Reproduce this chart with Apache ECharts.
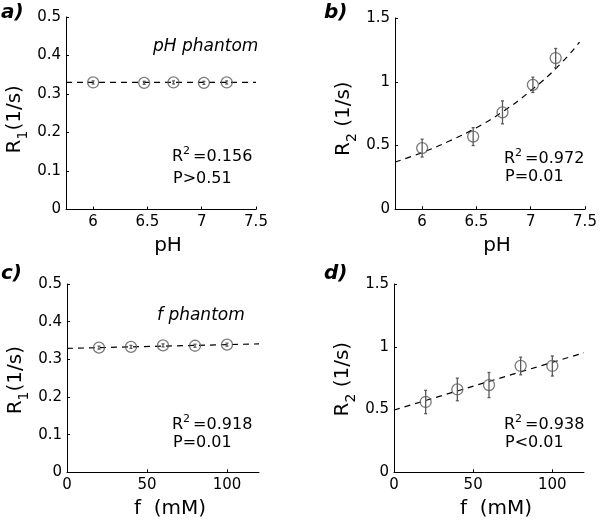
<!DOCTYPE html>
<html>
<head>
<meta charset="utf-8">
<script src="https://cdn.jsdelivr.net/npm/echarts@6/dist/echarts.min.js"></script>
<style>html,body{margin:0;padding:0;background:#fff;}#c{width:600px;height:529px;}</style>
</head>
<body>
<div id="c"></div>
<script>
// ---- data ----
var pH = [6.0, 6.47, 6.74, 7.02, 7.23];
var R1_pH = [0.33, 0.329, 0.33, 0.329, 0.33];
var R1_pH_err = [0.004, 0.004, 0.004, 0.004, 0.004];
var R2_pH = [0.48, 0.57, 0.76, 0.976, 1.186];
var R2_pH_err = [0.07, 0.07, 0.09, 0.06, 0.075];
var fitA_x = [5.75, 7.5];
var fitA_y = [0.33, 0.33];
var fitB_x = [5.75, 6.0, 6.25, 6.5, 6.75, 7.0, 7.25, 7.45];
var fitB_y = [0.37, 0.445, 0.535, 0.64, 0.77, 0.93, 1.12, 1.31];

var fconc = [20, 40, 60, 80, 100];
var R1_f = [0.331, 0.333, 0.337, 0.336, 0.339];
var R1_f_err = [0.004, 0.004, 0.004, 0.004, 0.004];
var R2_f = [0.56, 0.66, 0.695, 0.847, 0.847];
var R2_f_err = [0.093, 0.09, 0.10, 0.07, 0.08];
var fitC_x = [0, 120];
var fitC_y = [0.329, 0.341];
var fitD_x = [0, 120];
var fitD_y = [0.496, 0.952];

var panelLabels = ['a)', 'b)', 'c)', 'd)'];
var phantomLabels = ['pH phantom', 'f phantom'];
var r2Labels = ['0.156', '0.972', '0.918', '0.938'];
var pLabels = ['P>0.51', 'P=0.01', 'P=0.01', 'P<0.01'];

// ---- helpers ----
function zip(xs, ys) { return xs.map(function (x, i) { return [x, ys[i]]; }); }
function zip3(xs, ys, es) { return xs.map(function (x, i) { return [x, ys[i], es[i]]; }); }

var FONT = 'DejaVu Sans';
var GREY = '#5a5a5a';

function xAxisDef(idx, min, max, name, interval) {
  var a = {
    type: 'value', gridIndex: idx, min: min, max: max,
    name: name, nameLocation: 'middle', nameGap: 26,
    nameTextStyle: { fontFamily: FONT, fontSize: 20, color: '#000', padding: [0, 0, 0, 14] },
    axisLine: { show: true, onZero: false, lineStyle: { color: '#000', width: 1 } },
    axisTick: { show: true, inside: true, length: 3, lineStyle: { color: '#000' } },
    axisLabel: { fontFamily: FONT, fontSize: 15, color: '#000', margin: 5, showMinLabel: true, showMaxLabel: true },
    splitLine: { show: false }
  };
  if (interval) { a.interval = interval; a.axisLabel.showMaxLabel = false; }
  else { a.splitNumber = 3; a.axisLabel.showMinLabel = false; }
  return a;
}
function yAxisDef(idx, max, interval, sub, sp, shift) {
  return {
    type: 'value', gridIndex: idx, min: 0, max: max, interval: interval,
    name: '{m|R}{s|' + sub + '}{m|' + sp + '(1/s)}',
    nameLocation: 'middle', nameGap: 38, nameRotate: 90,
    nameTextStyle: {
      fontFamily: FONT, color: '#000', padding: [0, shift, 0, 0],
      rich: {
        m: { fontFamily: FONT, fontSize: 20, color: '#000', lineHeight: 26, verticalAlign: 'middle' },
        s: { fontFamily: FONT, fontSize: 14, color: '#000', lineHeight: 26, verticalAlign: 'bottom', padding: [0, 0, -2, 0] }
      }
    },
    axisLine: { show: true, onZero: false, lineStyle: { color: '#000', width: 1 } },
    axisTick: { show: true, inside: true, length: 3, lineStyle: { color: '#000' } },
    axisLabel: { fontFamily: FONT, fontSize: 15, color: '#000', margin: 5 },
    splitLine: { show: false }
  };
}

function scatterS(idx, xs, ys) {
  return {
    type: 'scatter', xAxisIndex: idx, yAxisIndex: idx, data: zip(xs, ys),
    symbol: 'circle', symbolSize: 11,
    itemStyle: { color: 'rgba(0,0,0,0)', borderColor: GREY, borderWidth: 1.3 },
    z: 4
  };
}
function fitS(idx, xs, ys, smooth) {
  return {
    type: 'line', xAxisIndex: idx, yAxisIndex: idx, data: zip(xs, ys),
    smooth: smooth ? 0.5 : false, showSymbol: false, symbol: 'none',
    lineStyle: { color: '#000', width: 1.2, type: [6, 5] }, z: 3
  };
}
function errS(idx, xs, ys, es) {
  return {
    type: 'custom', xAxisIndex: idx, yAxisIndex: idx, data: zip3(xs, ys, es), z: 5,
    renderItem: function (params, api) {
      var x = api.value(0), y = api.value(1), e = api.value(2);
      var top = api.coord([x, y + e]);
      var bot = api.coord([x, y - e]);
      var st = { stroke: GREY, lineWidth: 1.3, fill: null };
      return {
        type: 'group', children: [
          { type: 'line', shape: { x1: top[0], y1: top[1], x2: bot[0], y2: bot[1] }, style: st },
          { type: 'line', shape: { x1: top[0] - 1.5, y1: top[1], x2: top[0] + 1.5, y2: top[1] }, style: st },
          { type: 'line', shape: { x1: bot[0] - 1.5, y1: bot[1], x2: bot[0] + 1.5, y2: bot[1] }, style: st }
        ]
      };
    }
  };
}

function txt(x, y, text, opts) {
  opts = opts || {};
  return {
    type: 'text', left: x, top: y,
    style: {
      text: text, fontFamily: FONT, fontSize: opts.size || 16,
      fontStyle: opts.italic ? 'italic' : 'normal', fontWeight: opts.bold ? 'bold' : 'normal',
      fill: '#000'
    }
  };
}
var r2rich = {
  m: { fontFamily: FONT, fontSize: 16, color: '#000', lineHeight: 20, verticalAlign: 'bottom' },
  p: { fontFamily: FONT, fontSize: 11, color: '#000', lineHeight: 20, verticalAlign: 'top', padding: [1, 3, 0, 0] }
};
function r2txt(x, y, val) {
  return {
    type: 'text', left: x, top: y,
    style: { text: '{m|R}{p|2}{m|=' + val + '}', rich: r2rich, fontFamily: FONT }
  };
}

var grids = [
  { left: 66, top: 17, width: 190, height: 192.5 },
  { left: 395, top: 18, width: 190, height: 191.3 },
  { left: 67, top: 284, width: 192, height: 188.3 },
  { left: 394, top: 284, width: 190, height: 188.3 }
];

var option = {
  animation: false,
  backgroundColor: '#fff',
  grid: grids,
  xAxis: [
    xAxisDef(0, 5.75, 7.5, 'pH'),
    xAxisDef(1, 5.75, 7.5, 'pH'),
    xAxisDef(2, 0, 120, 'f  (mM)', 50),
    xAxisDef(3, 0, 120, 'f  (mM)', 50)
  ],
  yAxis: [
    yAxisDef(0, 0.5, 0.1, '1', '', 12),
    yAxisDef(1, 1.5, 0.5, '2', ' ', 10),
    yAxisDef(2, 0.5, 0.1, '1', '', 4),
    yAxisDef(3, 1.5, 0.5, '2', ' ', 2)
  ],
  series: [
    fitS(0, fitA_x, fitA_y, false), scatterS(0, pH, R1_pH), errS(0, pH, R1_pH, R1_pH_err),
    fitS(1, fitB_x, fitB_y, true), scatterS(1, pH, R2_pH), errS(1, pH, R2_pH, R2_pH_err),
    fitS(2, fitC_x, fitC_y, false), scatterS(2, fconc, R1_f), errS(2, fconc, R1_f, R1_f_err),
    fitS(3, fitD_x, fitD_y, false), scatterS(3, fconc, R2_f), errS(3, fconc, R2_f, R2_f_err)
  ],
  graphic: [
    txt(1, 3, panelLabels[0], { size: 20, bold: true, italic: true }),
    txt(324, 3, panelLabels[1], { size: 20, bold: true, italic: true }),
    txt(1, 264, panelLabels[2], { size: 20, bold: true, italic: true }),
    txt(324, 264, panelLabels[3], { size: 20, bold: true, italic: true }),
    txt(153, 38, phantomLabels[0], { size: 17, italic: true }),
    txt(157, 307, phantomLabels[1], { size: 17, italic: true }),
    r2txt(172, 145, r2Labels[0]),
    txt(173, 171, pLabels[0], { size: 16 }),
    r2txt(504, 147, r2Labels[1]),
    txt(505, 169, pLabels[1], { size: 16 }),
    r2txt(172, 413, r2Labels[2]),
    txt(173, 435, pLabels[2], { size: 16 }),
    r2txt(504, 413, r2Labels[3]),
    txt(505, 435, pLabels[3], { size: 16 })
  ]
};
var chart = echarts.init(document.getElementById('c'), null, { renderer: 'canvas' });
chart.setOption(option);
</script>
</body>
</html>
